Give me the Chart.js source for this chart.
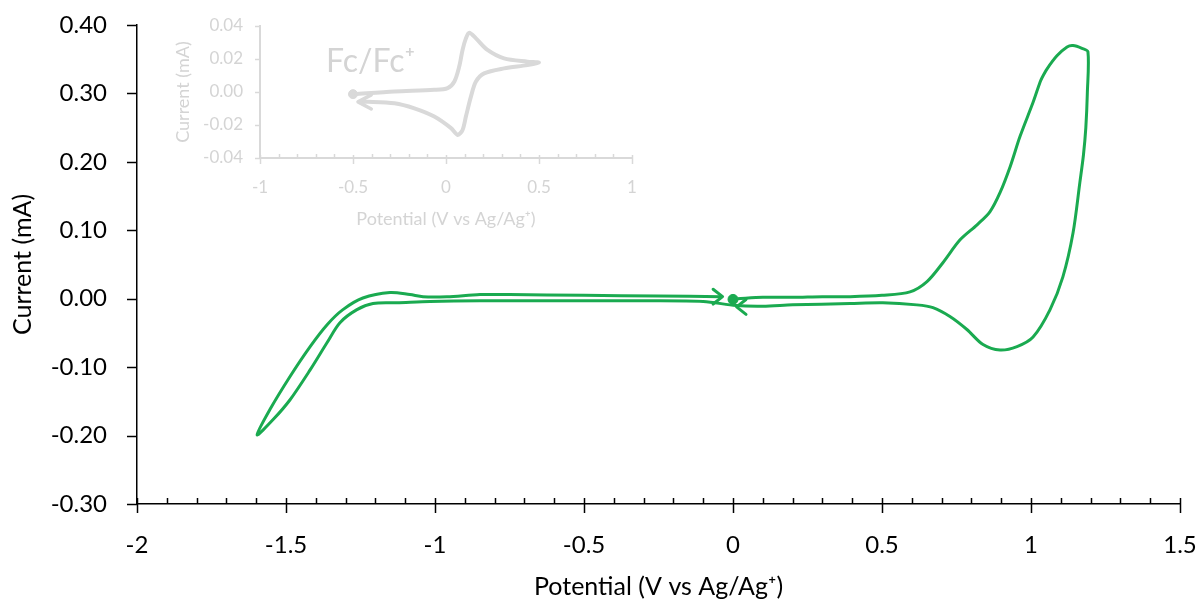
<!DOCTYPE html>
<html>
<head>
<meta charset="utf-8">
<script src="https://cdn.jsdelivr.net/npm/chart.js@4.4.1/dist/chart.umd.min.js"></script>
<style>
  html, body { margin: 0; padding: 0; background: #fff; }
  #wrap { position: relative; width: 1198px; height: 604px; }
  #main { position: absolute; left: 0; top: 0; }
  #inset { position: absolute; left: 160px; top: 0; }
</style>
</head>
<body>
<div id="wrap">
  <canvas id="main" width="1198" height="604" style="width:1198px;height:604px"></canvas>
  <canvas id="inset" width="490" height="240" style="width:490px;height:240px"></canvas>
</div>
<script>
// Main CV scan (V vs Ag/Ag+, mA)
const cvPotential = [
  0.015, 0.1, 0.2, 0.3, 0.393, 0.5, 0.594, 0.651, 0.705, 0.762, 0.819, 0.862, 0.896, 0.930, 0.963,
  1.007, 1.030, 1.037, 1.054, 1.087, 1.121, 1.141, 1.171, 1.191,
  1.189, 1.184, 1.176, 1.164, 1.141, 1.107, 1.064, 1.007, 0.953, 0.896, 0.839, 0.785, 0.728, 0.671, 0.617,
  0.503, 0.393, 0.2, 0.1, 0.01, -0.1, -0.3, -0.5, -0.849, -1.017, -1.128, -1.208, -1.262, -1.319,
  -1.362, -1.419, -1.487, -1.544, -1.597,
  -1.554, -1.487, -1.419, -1.362, -1.309, -1.242, -1.151, -1.084, -1.040, -0.960, -0.849, -0.75,
  -0.5, -0.25, -0.04
];
const cvCurrent = [
  0.000, 0.002, 0.002, 0.003, 0.003, 0.005, 0.010, 0.025, 0.053, 0.086, 0.108, 0.127, 0.155, 0.193, 0.237,
  0.287, 0.316, 0.323, 0.336, 0.355, 0.368, 0.370, 0.366, 0.361,
  0.300, 0.250, 0.210, 0.170, 0.096, 0.032, -0.016, -0.056, -0.070, -0.075, -0.067, -0.045, -0.026, -0.013, -0.009,
  -0.006, -0.007, -0.009, -0.011, -0.010, -0.004, -0.003, -0.003, -0.003, -0.004, -0.006, -0.007, -0.016, -0.035,
  -0.064, -0.104, -0.148, -0.177, -0.199,
  -0.162, -0.114, -0.070, -0.038, -0.016, 0.001, 0.009, 0.006, 0.003, 0.003, 0.006, 0.006,
  0.005, 0.004, 0.003
];
const cvStart = [0.0, -0.001];
const cvArrowX = [-0.035, 0.012];
const cvArrowY = [0.003, -0.012];
const cvArrowDir = [0, 180];

// Inset: ferrocene reference
const fcPotential = [
  -0.494, -0.277, -0.063, 0.009, 0.045, 0.071, 0.089, 0.107, 0.125, 0.161, 0.223, 0.312, 0.438, 0.500,
  0.438, 0.312, 0.205, 0.161, 0.134, 0.107, 0.089, 0.063, 0.027, -0.063, -0.170, -0.277, -0.420, -0.473
];
const fcCurrent = [
  -0.0013, 0.0003, 0.0013, 0.0024, 0.0064, 0.0154, 0.0255, 0.0325, 0.0359, 0.0325, 0.0255, 0.0204, 0.0184, 0.0178,
  0.0163, 0.0143, 0.0113, 0.0063, -0.0028, -0.0149, -0.0230, -0.0260, -0.0219, -0.0149, -0.0099, -0.0068, -0.0059, -0.0060
];
const fcStart = [-0.5, -0.0013];
const fcArrowX = [-0.473];
const fcArrowY = [-0.006];
const fcArrowDir = [180];

const GREEN = '#1aaa50';
const GREY = '#d9d9d9';
const LABEL_GREY = '#d4d4d4';
const FONT = 'Lato, "Open Sans", sans-serif';

const toPoints = (xs, ys) => xs.map((x, i) => ({ x, y: ys[i] }));
const plainNum = v => String(Number(v.toFixed(2)));
const fixed2 = v => (Math.abs(v) < 1e-9 ? 0 : v).toFixed(2);

// axis tick marks: x gets minor (up) and major (crossing) ticks, y gets outward major ticks
const axisTickPlugin = {
  id: 'axisTicks',
  afterDraw(chart, args, o) {
    const ctx = chart.ctx;
    const sx = chart.scales.x, sy = chart.scales.y;
    ctx.save();
    ctx.strokeStyle = o.color;
    ctx.lineWidth = o.width;
    const n = Math.round((sx.max - sx.min) / o.minor);
    for (let i = 0; i <= n; i++) {
      const v = sx.min + i * o.minor;
      const px = Math.round(sx.getPixelForValue(v)) + 0.5;
      const isMajor = Math.abs(v / o.major - Math.round(v / o.major)) < 1e-6;
      ctx.beginPath();
      ctx.moveTo(px, sx.top - (isMajor ? o.majorUp : o.minorUp));
      ctx.lineTo(px, sx.top + (isMajor ? o.majorDown : 0));
      ctx.stroke();
    }
    if (o.yLen) {
      const m = Math.round((sy.max - sy.min) / o.yStep);
      for (let i = 0; i <= m; i++) {
        const py = Math.round(sy.getPixelForValue(sy.min + i * o.yStep)) + 0.5;
        ctx.beginPath();
        ctx.moveTo(sy.right - o.yLen, py);
        ctx.lineTo(sy.right, py);
        ctx.stroke();
      }
    }
    ctx.restore();
  }
};

// open arrowheads on the scan
const arrowPlugin = {
  id: 'arrows',
  afterDatasetsDraw(chart, args, o) {
    const { x, y } = chart.scales, ctx = chart.ctx;
    const s = o.spread * Math.PI / 180;
    ctx.save();
    ctx.strokeStyle = o.color;
    ctx.lineWidth = o.width;
    ctx.lineCap = 'round';
    ctx.lineJoin = 'round';
    o.xs.forEach((xv, i) => {
      const px = x.getPixelForValue(xv), py = y.getPixelForValue(o.ys[i]);
      const a = o.dirs[i] * Math.PI / 180;
      ctx.beginPath();
      ctx.moveTo(px - o.len * Math.cos(a - s), py - o.len * Math.sin(a - s));
      ctx.lineTo(px, py);
      ctx.lineTo(px - o.len * Math.cos(a + s), py - o.len * Math.sin(a + s));
      ctx.stroke();
    });
    ctx.restore();
  }
};

// text label placed at data coordinates
const notePlugin = {
  id: 'note',
  afterDraw(chart, args, o) {
    if (!o.text) return;
    const { x, y } = chart.scales, ctx = chart.ctx;
    ctx.save();
    ctx.fillStyle = o.color;
    ctx.font = o.size + 'px ' + FONT;
    ctx.textBaseline = 'alphabetic';
    ctx.fillText(o.text, x.getPixelForValue(o.x), y.getPixelForValue(o.y));
    ctx.restore();
  }
};

new Chart(document.getElementById('main'), {
  type: 'scatter',
  data: {
    datasets: [
      {
        data: toPoints(cvPotential, cvCurrent),
        showLine: true, borderColor: GREEN, borderWidth: 3, pointRadius: 0,
        tension: 0.3, fill: false
      },
      {
        data: [{ x: cvStart[0], y: cvStart[1] }],
        pointRadius: 5, backgroundColor: GREEN, borderColor: GREEN, showLine: false
      }
    ]
  },
  options: {
    responsive: false,
    animation: false,
    layout: { padding: { top: 25, right: 18, left: 0, bottom: 0 } },
    plugins: {
      legend: { display: false },
      tooltip: { enabled: false },
      axisTicks: { color: '#000', width: 1.5, major: 0.5, minor: 0.1, majorUp: 6, majorDown: 9, minorUp: 6, yStep: 0.1, yLen: 10 },
      arrows: { xs: cvArrowX, ys: cvArrowY, dirs: cvArrowDir, len: 12, spread: 38, color: GREEN, width: 3 }
    },
    scales: {
      x: {
        type: 'linear', min: -2, max: 1.5,
        ticks: { stepSize: 0.5, color: '#000', font: { family: FONT, size: 24 }, padding: 0, callback: plainNum },
        grid: { drawOnChartArea: false, tickLength: 27, tickColor: 'transparent' },
        border: { color: '#000', width: 1.5 },
        title: {
          display: true, text: 'Potential (V vs Ag/Ag\u207A)', color: '#000',
          font: { family: FONT, size: 25 }, padding: { top: 0, bottom: 2 }
        },
        afterFit: s => { s.height = 100; }
      },
      y: {
        type: 'linear', min: -0.3, max: 0.4,
        ticks: { stepSize: 0.1, color: '#000', font: { family: FONT, size: 24 }, padding: 0, callback: fixed2 },
        grid: { drawOnChartArea: false, tickLength: 30, tickColor: 'transparent' },
        border: { color: '#000', width: 1.5 },
        title: {
          display: true, text: 'Current (mA)', color: '#000',
          font: { family: FONT, size: 25 }, padding: { top: 8, bottom: 0 }
        },
        afterFit: s => { s.width = 137; }
      }
    }
  },
  plugins: [axisTickPlugin, arrowPlugin]
});

new Chart(document.getElementById('inset'), {
  type: 'scatter',
  data: {
    datasets: [
      {
        data: toPoints(fcPotential, fcCurrent),
        showLine: true, borderColor: GREY, borderWidth: 4, pointRadius: 0,
        tension: 0.3, fill: false
      },
      {
        data: [{ x: fcStart[0], y: fcStart[1] }],
        pointRadius: 4.5, backgroundColor: GREY, borderColor: GREY, showLine: false
      }
    ]
  },
  options: {
    responsive: false,
    animation: false,
    layout: { padding: { top: 26, right: 18, left: 0, bottom: 0 } },
    plugins: {
      legend: { display: false },
      tooltip: { enabled: false },
      axisTicks: { color: GREY, width: 1.5, major: 0.5, minor: 0.1, majorUp: 3, majorDown: 6, minorUp: 4, yStep: 0.02, yLen: 5 },
      arrows: { xs: fcArrowX, ys: fcArrowY, dirs: fcArrowDir, len: 15, spread: 28, color: GREY, width: 3.5 },
      note: { text: 'Fc/Fc\u207A', x: -0.645, y: 0.0122, size: 32, color: LABEL_GREY }
    },
    scales: {
      x: {
        type: 'linear', min: -1, max: 1,
        ticks: { stepSize: 0.5, color: LABEL_GREY, font: { family: FONT, size: 17 }, padding: 0, callback: plainNum },
        grid: { drawOnChartArea: false, tickLength: 19, tickColor: 'transparent' },
        border: { color: GREY, width: 2 },
        title: {
          display: true, text: 'Potential (V vs Ag/Ag\u207A)', color: LABEL_GREY,
          font: { family: FONT, size: 18 }, padding: { top: 0, bottom: 10 }
        },
        afterFit: s => { s.height = 82; }
      },
      y: {
        type: 'linear', min: -0.04, max: 0.04,
        ticks: { stepSize: 0.02, color: LABEL_GREY, font: { family: FONT, size: 17 }, padding: 0, callback: fixed2 },
        grid: { drawOnChartArea: false, tickLength: 17, tickColor: 'transparent' },
        border: { color: GREY, width: 2 },
        title: {
          display: true, text: 'Current (mA)', color: LABEL_GREY,
          font: { family: FONT, size: 18 }, padding: { top: 12, bottom: 0 }
        },
        afterFit: s => { s.width = 100; }
      }
    }
  },
  plugins: [axisTickPlugin, arrowPlugin, notePlugin]
});
</script>
</body>
</html>
